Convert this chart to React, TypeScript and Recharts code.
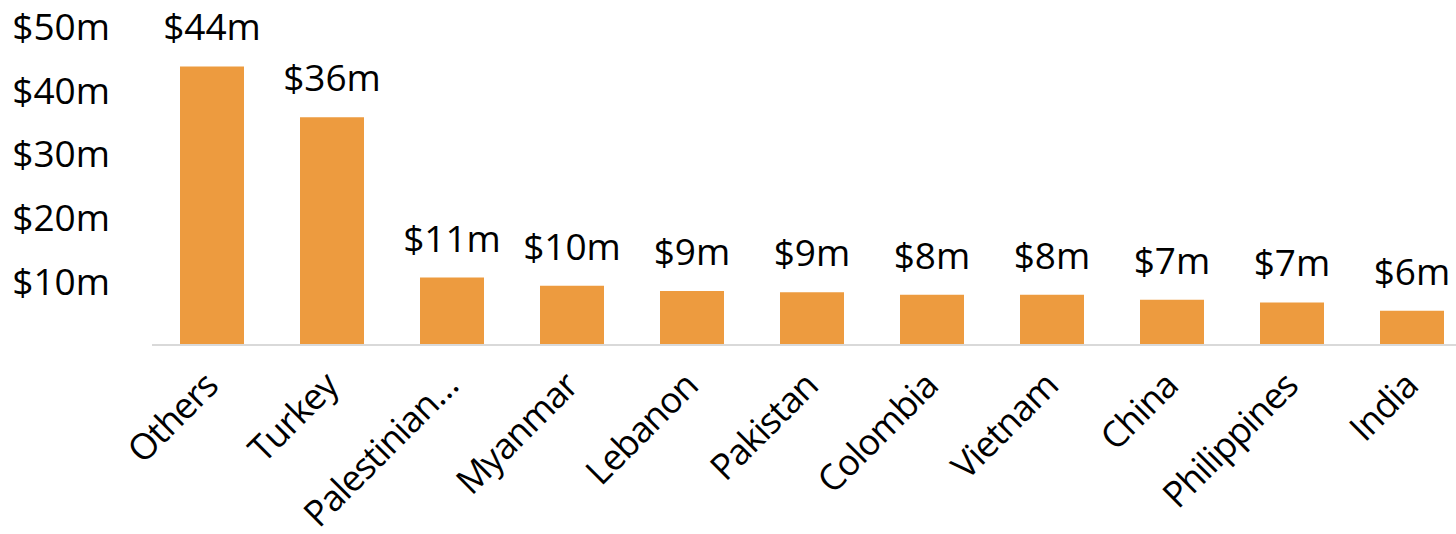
import React from 'react';
import { BarChart, Bar, XAxis, YAxis, LabelList } from 'recharts';

const countries = ['Others', 'Turkey', 'Palestinian…', 'Myanmar', 'Lebanon', 'Pakistan', 'Colombia', 'Vietnam', 'China', 'Philippines', 'India'];
const amounts = [43.8, 35.8, 10.6, 9.3, 8.5, 8.3, 7.9, 7.9, 7.1, 6.7, 5.4];
const valueLabels = ['$44m', '$36m', '$11m', '$10m', '$9m', '$9m', '$8m', '$8m', '$7m', '$7m', '$6m'];
const yTicks = [10, 20, 30, 40, 50];

const FONT = '"Open Sans", sans-serif';
const BAR_COLOR = '#ED9B3F';

const chartData = countries.map((name, i) => ({
  name,
  value: amounts[i],
  label: valueLabels[i],
}));

// rotated category labels, text ends just under the bar
const CountryTick = ({ x, y, payload }: any) => {
  const tx = x + 8;
  const ty = y + 35;
  return (
    <text
      x={tx}
      y={ty}
      transform={`rotate(-45, ${tx}, ${ty})`}
      textAnchor="end"
      fontFamily={FONT}
      fontSize={36}
      letterSpacing={-1}
      fill="#000"
    >
      {payload.value}
    </text>
  );
};

export default function App() {
  return (
    <div style={{ position: 'absolute', left: 0, top: 0, width: 1456, height: 534, overflow: 'hidden', background: '#fff' }}>
      <BarChart
        width={1472}
        height={534}
        data={chartData}
        margin={{ top: 27, right: 0, bottom: 0, left: 0 }}
        barSize={64}
      >
        <XAxis
          dataKey="name"
          height={189}
          interval={0}
          tickLine={false}
          axisLine={{ stroke: '#D9D9D9', strokeWidth: 2 }}
          tick={<CountryTick />}
        />
        <YAxis
          width={152}
          domain={[0, 50]}
          ticks={yTicks}
          axisLine={false}
          tickLine={false}
          tickMargin={36}
          tick={{ fontFamily: FONT, fontSize: 37, fill: '#000' }}
          tickFormatter={(v: number) => `$${v}m`}
        />
        <Bar dataKey="value" fill={BAR_COLOR} isAnimationActive={false}>
          <LabelList
            dataKey="label"
            position="top"
            offset={26}
            fontFamily={FONT}
            fontSize={37}
            fill="#000"
          />
        </Bar>
      </BarChart>
    </div>
  );
}
